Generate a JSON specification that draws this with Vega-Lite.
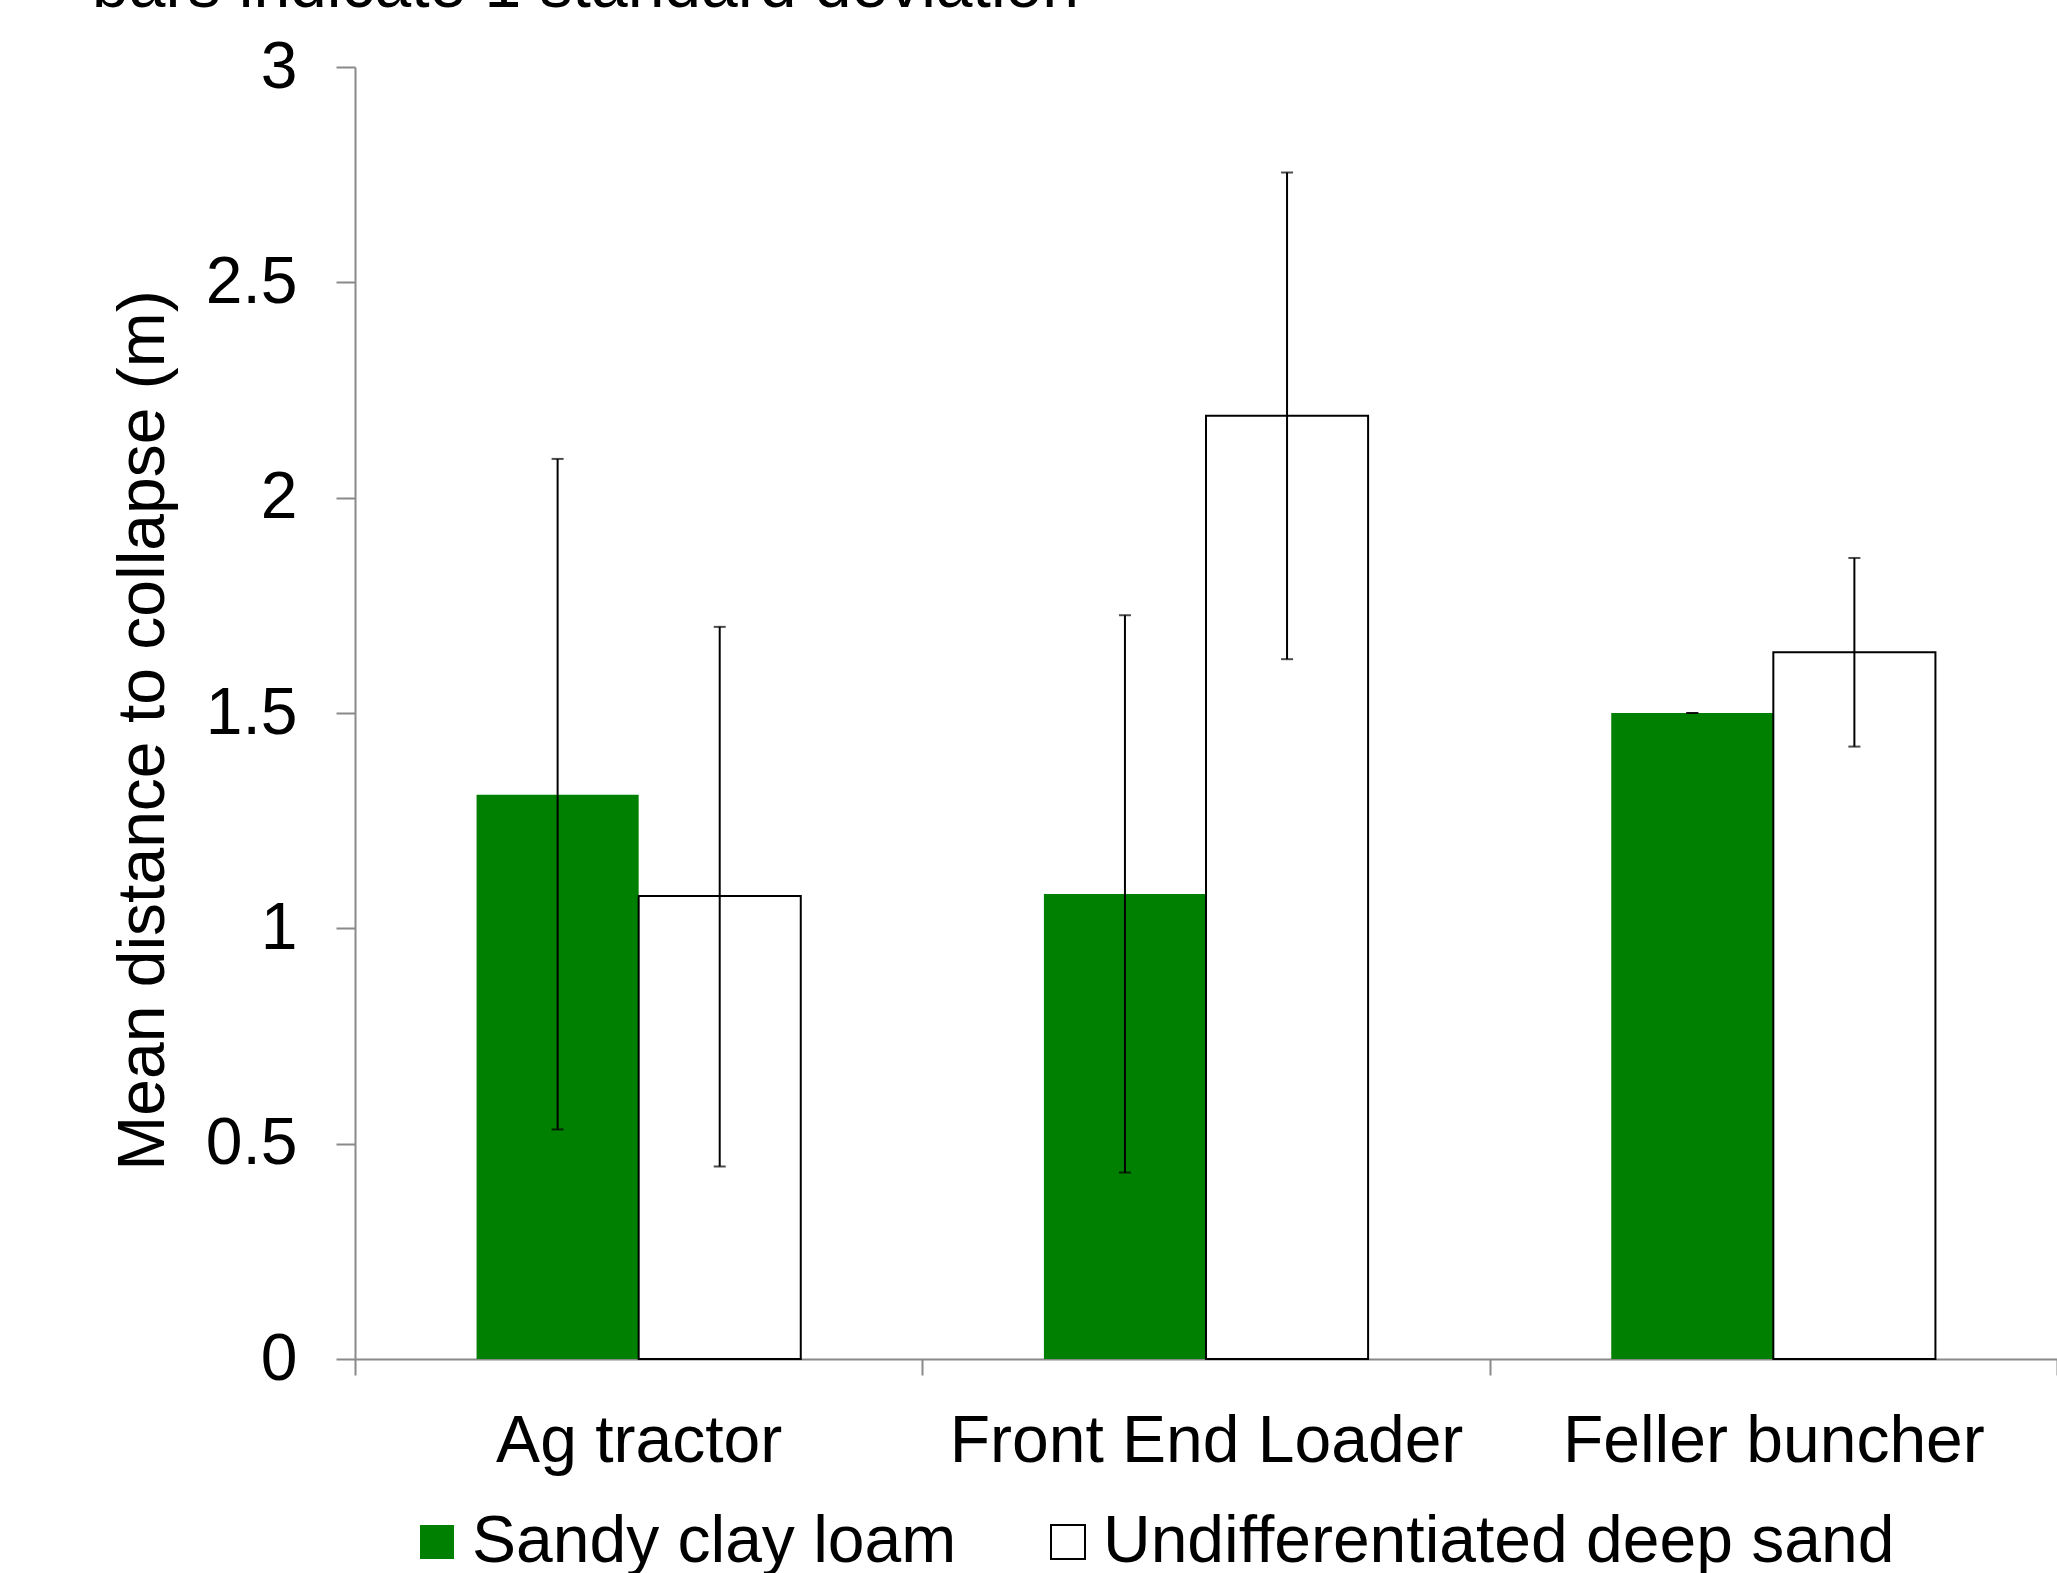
{
  "$schema": "https://vega.github.io/schema/vega-lite/v6.json",
  "width": 1702,
  "height": 1292,
  "autosize": {"type": "none"},
  "padding": {"left": 355, "top": 67, "right": 0, "bottom": 214},
  "background": "white",
  "title": {
    "text": "bars indicate 1 standard deviation",
    "anchor": "start",
    "frame": "group",
    "orient": "top",
    "offset": 0,
    "dx": -263,
    "dy": 39,
    "baseline": "alphabetic",
    "font": "Liberation Sans",
    "fontSize": 66,
    "fontWeight": "normal",
    "color": "black"
  },
  "config": {
    "view": {"stroke": null},
    "font": "Liberation Sans",
    "axis": {"grid": false}
  },
  "data": {
    "values": [
      {"machine": "Ag tractor", "soil": "Sandy clay loam", "mean": 1.31, "lo": 0.533, "hi": 2.09},
      {"machine": "Ag tractor", "soil": "Undifferentiated deep sand", "mean": 1.075, "lo": 0.447, "hi": 1.7},
      {"machine": "Front End Loader", "soil": "Sandy clay loam", "mean": 1.08, "lo": 0.433, "hi": 1.727},
      {"machine": "Front End Loader", "soil": "Undifferentiated deep sand", "mean": 2.19, "lo": 1.625, "hi": 2.755},
      {"machine": "Feller buncher", "soil": "Sandy clay loam", "mean": 1.5, "lo": 1.5, "hi": 1.5},
      {"machine": "Feller buncher", "soil": "Undifferentiated deep sand", "mean": 1.641, "lo": 1.422, "hi": 1.86}
    ]
  },
  "encoding": {
    "x": {
      "field": "machine",
      "type": "nominal",
      "sort": ["Ag tractor", "Front End Loader", "Feller buncher"],
      "scale": {"paddingInner": 0, "paddingOuter": 0},
      "axis": {
        "title": null,
        "tickBand": "extent",
        "domainColor": "#898989",
        "domainWidth": 2,
        "tickColor": "#898989",
        "tickWidth": 2,
        "tickSize": 16,
        "labelPadding": 34,
        "labelFont": "Liberation Sans",
        "labelFontSize": 66,
        "labelColor": "black",
        "labelAngle": 0,
        "labelLimit": 2000
      }
    },
    "xOffset": {
      "field": "soil",
      "type": "nominal",
      "sort": ["Sandy clay loam", "Undifferentiated deep sand"],
      "scale": {"paddingInner": 0, "paddingOuter": 0.75}
    }
  },
  "layer": [
    {
      "mark": {"type": "bar", "strokeWidth": 2},
      "encoding": {
        "y": {
          "field": "mean",
          "type": "quantitative",
          "scale": {"domain": [0, 3], "nice": false},
          "axis": {
            "title": "Mean distance to collapse (m)",
            "values": [0, 0.5, 1, 1.5, 2, 2.5, 3],
            "format": "~g",
            "domainColor": "#898989",
            "domainWidth": 2,
            "tickColor": "#898989",
            "tickWidth": 2,
            "tickSize": 19,
            "labelPadding": 39,
            "labelFont": "Liberation Sans",
            "labelFontSize": 66,
            "labelColor": "black",
            "titleFont": "Liberation Sans",
            "titleFontSize": 66,
            "titleFontWeight": "normal",
            "titleColor": "black",
            "titleX": -192,
            "titleY": 663,
            "titleBaseline": "alphabetic"
          }
        },
        "fill": {
          "field": "soil",
          "type": "nominal",
          "scale": {"domain": ["Sandy clay loam", "Undifferentiated deep sand"], "range": ["#008000", "#ffffff"]},
          "legend": {
            "title": null,
            "orient": "none",
            "legendX": 49,
            "legendY": 1442,
            "direction": "horizontal",
            "symbolType": "square",
            "symbolSize": 1156,
            "symbolStrokeWidth": 2,
            "labelFont": "Liberation Sans",
            "labelFontSize": 66,
            "labelColor": "black",
            "labelLimit": 2000,
            "labelOffset": 2,
            "columnPadding": 78,
            "padding": 0
          }
        },
        "stroke": {
          "field": "soil",
          "type": "nominal",
          "scale": {"domain": ["Sandy clay loam", "Undifferentiated deep sand"], "range": ["transparent", "#000000"]}
        }
      }
    },
    {
      "mark": {"type": "rule", "color": "black", "strokeWidth": 2},
      "encoding": {
        "y": {"field": "lo", "type": "quantitative"},
        "y2": {"field": "hi"}
      }
    },
    {
      "mark": {"type": "tick", "color": "black", "size": 12, "thickness": 2},
      "encoding": {
        "y": {"field": "hi", "type": "quantitative"}
      }
    },
    {
      "mark": {"type": "tick", "color": "black", "size": 12, "thickness": 2},
      "encoding": {
        "y": {"field": "lo", "type": "quantitative"}
      }
    }
  ]
}
